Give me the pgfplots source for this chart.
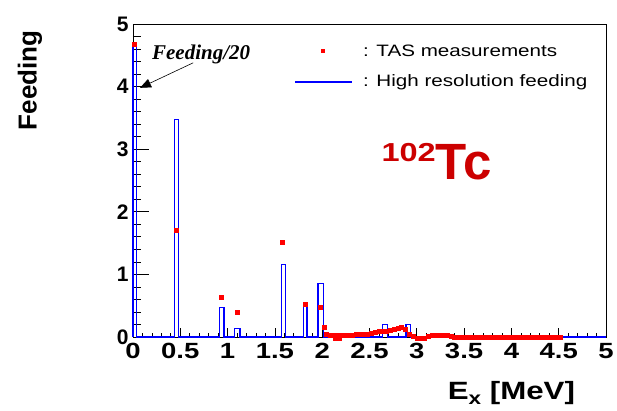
\documentclass[border=0pt]{standalone}
\usepackage{fontspec}
\setmainfont{Liberation Sans}
\newfontfamily\wide[FakeStretch=1.25]{Liberation Sans}
\newfontfamily\seriffam{Liberation Serif}
\usepackage{pgfplots}
\pgfplotsset{compat=1.18}
\usetikzlibrary{arrows.meta}
\definecolor{histblue}{RGB}{0,0,255}
\definecolor{tasred}{RGB}{255,0,0}
\definecolor{tcred}{RGB}{204,0,0}
\begin{document}
\begin{tikzpicture}
\useasboundingbox (-133pt,-73pt) rectangle (484pt,337pt);
\begin{axis}[
  at={(0,0)}, anchor=south west,
  scale only axis, width=473pt, height=313pt,
  xmin=0, xmax=5, ymin=0, ymax=5,
  clip=false,
  axis line style={line width=0.8pt},
  xtick={0,0.5,...,5}, ytick={0,1,...,5},
  minor x tick num=4, minor y tick num=4,
  tick pos=left, tick align=inside,
  xtick style={black, line width=0.7pt, /pgfplots/major tick length=9pt, /pgfplots/minor tick length=4.5pt},
  ytick style={black, line width=0.7pt, /pgfplots/major tick length=16pt, /pgfplots/minor tick length=8pt},
  /pgf/number format/assume math mode=true,
  xticklabel style={font=\wide\bfseries\fontsize{22}{24}\selectfont, yshift=-3pt},
  yticklabel style={font=\bfseries\fontsize{21}{24}\selectfont, xshift=-1pt},
  xlabel={E\raisebox{-0.22em}{\fontsize{18}{18}\selectfont x} [MeV]},
  xlabel style={at={(axis description cs:0.80,-0.178)}, anchor=center, font=\wide\bfseries\fontsize{25}{28}\selectfont},
  ylabel={Feeding},
  ylabel style={at={(axis description cs:-0.218,0.82)}, anchor=center, font=\bfseries\fontsize{26}{30}\selectfont},
]
\addplot[histblue, line width=1.2pt, const plot]
  coordinates {
  (0,0) (0,4.67) (0.035,0)
  (0.437,3.48) (0.484,0)
  (0.918,0.47) (0.961,0)
  (1.073,0.14) (1.130,0)
  (1.568,1.155) (1.610,0)
  (1.800,0.50) (1.840,0)
  (1.956,0.86) (2.013,0)
  (2.640,0.20) (2.690,0)
  (2.885,0.20) (2.934,0)
  (5,0)
};
\addplot[only marks, mark=square*, mark size=2pt, color=tasred]
  table {
x y
0.015 4.68
0.46 1.71
0.935 0.64
1.10 0.39
1.58 1.52
1.82 0.52
1.98 0.48
2.016 0.155
2.04 0.04
2.08 0.035
2.12 0.03
2.14 -0.02
2.16 0.03
2.18 -0.02
2.20 0.03
2.24 0.03
2.28 0.035
2.32 0.035
2.36 0.04
2.40 0.04
2.44 0.045
2.48 0.05
2.52 0.06
2.56 0.075
2.60 0.085
2.64 0.09
2.68 0.10
2.72 0.11
2.76 0.125
2.80 0.14
2.84 0.155
2.88 0.12
2.92 0.05
2.96 0.02
3.00 -0.02
3.04 -0.02
3.08 -0.02
3.12 0.02
3.16 0.03
3.20 0.03
3.24 0.03
3.28 0.03
3.32 0.025
3.36 0.01
3.40 -0.005
3.44 0.0
3.48 -0.005
3.52 0.0
3.56 -0.005
3.60 0.0
3.64 -0.005
3.68 0.0
3.72 -0.005
3.76 0.0
3.80 -0.005
3.84 0.0
3.88 -0.005
3.92 0.0
3.96 -0.005
4.00 0.0
4.04 -0.005
4.08 0.0
4.12 -0.005
4.16 0.0
4.20 -0.005
4.24 0.0
4.28 -0.005
4.32 0.0
4.36 -0.005
4.40 0.0
4.44 -0.005
4.48 0.0
4.52 -0.005
};
% legend
\fill[tasred] ([xshift=-1.7pt,yshift=-1.7pt]axis description cs:0.4017,0.914) rectangle ([xshift=1.7pt,yshift=1.7pt]axis description cs:0.4017,0.914);
\draw[histblue, line width=1.2pt] (axis description cs:0.3425,0.815) -- (axis description cs:0.463,0.815);
\node[anchor=west, inner sep=0pt, font=\wide\fontsize{16.5}{19}\selectfont] at (axis description cs:0.486,0.914) {: TAS measurements};
\node[anchor=west, inner sep=0pt, font=\wide\fontsize{16.5}{19}\selectfont] at (axis description cs:0.486,0.815) {: High resolution feeding};
% annotations
\draw[-{Triangle[length=11pt,width=9pt]}, line width=0.6pt] (axis cs:0.636,4.38) -- (axis cs:0.074,3.98);
\node[font=\seriffam\bfseries\itshape\fontsize{21}{23}\selectfont] at (axis cs:0.72,4.51) {Feeding/20};
\node[anchor=base west, text=tcred, font=\bfseries, inner sep=0pt] at (axis cs:2.625,2.51)
  {\raisebox{18pt}{\wide\fontsize{26}{26}\selectfont 102}\fontsize{51}{53}\selectfont Tc};
\end{axis}
\end{tikzpicture}
\end{document}
